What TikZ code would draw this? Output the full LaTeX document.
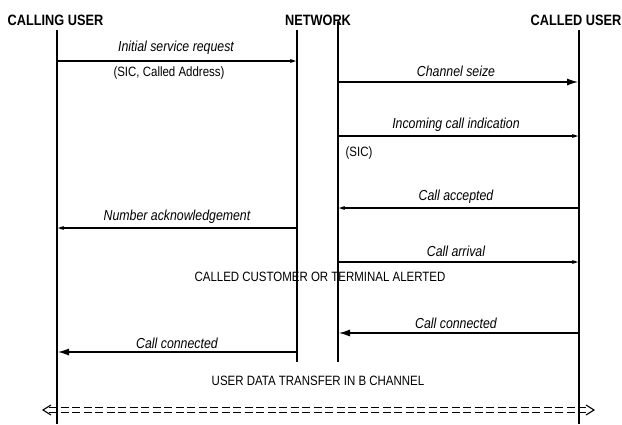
\documentclass[tikz,border=0pt]{standalone}
\usepackage{fontspec}
\setmainfont{Liberation Sans}[FakeStretch=0.85]
\usetikzlibrary{arrows.meta,calc}

\begin{document}
\begin{tikzpicture}[x=1pt,y=-1pt,
  hdr/.style={font=\bfseries\fontsize{15}{15}\selectfont, inner sep=0pt},
  msg/.style={font=\itshape\fontsize{14.5}{14.5}\selectfont, inner sep=0pt},
  note/.style={font=\fontsize{13.5}{13.5}\selectfont, inner sep=0pt},
  life/.style={line width=1.1pt},
  msgline/.style={line width=1.1pt},
  small/.style={msgline, -{Stealth[length=6pt,width=4pt]}},
  big/.style={msgline, -{Latex[length=11pt,width=7pt]}}]
\useasboundingbox (0,0) rectangle (622,424);

% party headings
\node[hdr] (hcu) at (55.5,20) {CALLING USER};
\node[hdr] (hnw) at (318,20) {NETWORK};
\node[hdr] (hcd) at (576,20) {CALLED USER};

% lifelines
\coordinate (cuT) at (57,30);   \coordinate (cuB) at (57,424);
\coordinate (naT) at (297,30);  \coordinate (naB) at (297,362);
\coordinate (nbT) at (338,22);  \coordinate (nbB) at (338,362);
\coordinate (cdT) at (579,30);  \coordinate (cdB) at (579,424);
\draw[life] (cuT) -- (cuB);
\draw[life] (naT) -- (naB);
\draw[life] (nbT) -- (nbB);
\draw[life] (cdT) -- (cdB);

% message end points
\coordinate (u1) at (57,61);   \coordinate (a1) at (296,61);
\coordinate (b2) at (339,82);  \coordinate (c2) at (578,82);
\coordinate (b3) at (339,136); \coordinate (c3) at (578,136);
\coordinate (c4) at (579,208); \coordinate (b4) at (339,208);
\coordinate (a5) at (297,228); \coordinate (u5) at (58,228);
\coordinate (b6) at (339,262); \coordinate (c6) at (578,262);
\coordinate (c7) at (579,333); \coordinate (b7) at (339,333);
\coordinate (a8) at (297,352); \coordinate (u8) at (58,352);

% messages
\draw[small] (u1) -- (a1);
\node[msg] (m1) at (176,48) {Initial service request};
\node[note] (m1b) at (169,73) {(SIC, Called Address)};

\draw[big] (b2) -- (c2);
\node[msg] (m2) at (456,71) {Channel seize};

\draw[small] (b3) -- (c3);
\node[msg] (m3) at (456,125) {Incoming call indication};
\node[note] (m3b) at (359,153) {(SIC)};

\draw[small] (c4) -- (b4);
\node[msg] (m4) at (456,197) {Call accepted};

\draw[small] (a5) -- (u5);
\node[msg] (m5) at (177,217) {Number acknowledgement};

\draw[small] (b6) -- (c6);
\node[msg] (m6) at (456,251) {Call arrival};

\node[note] (alert) at (320,277) {CALLED CUSTOMER OR TERMINAL ALERTED};

\draw[big] (c7) -- (b7);
\node[msg] (m7) at (456,323) {Call connected};

\draw[big] (a8) -- (u8);
\node[msg] (m8) at (177,343) {Call connected};

\node[note] (data) at (318,381) {USER DATA TRANSFER IN B CHANNEL};

% B channel data transfer, both directions
\coordinate (dl) at (43,410);  \coordinate (dr) at (594,410);
\coordinate (dlu) at (49,407.8); \coordinate (dld) at (49,412.2);
\coordinate (dru) at (588,407.8); \coordinate (drd) at (588,412.2);
\draw[line width=1pt, dash pattern=on 8pt off 3.5pt] (dlu) -- (dru);
\draw[line width=1pt, dash pattern=on 8pt off 3.5pt] (dld) -- (drd);
\draw[line width=1.1pt] ($(dl)+(8,-5)$) -- (dl) -- ($(dl)+(8,5)$);
\draw[line width=1.1pt] ($(dr)+(-8,-5)$) -- (dr) -- ($(dr)+(-8,5)$);
\end{tikzpicture}
\end{document}
